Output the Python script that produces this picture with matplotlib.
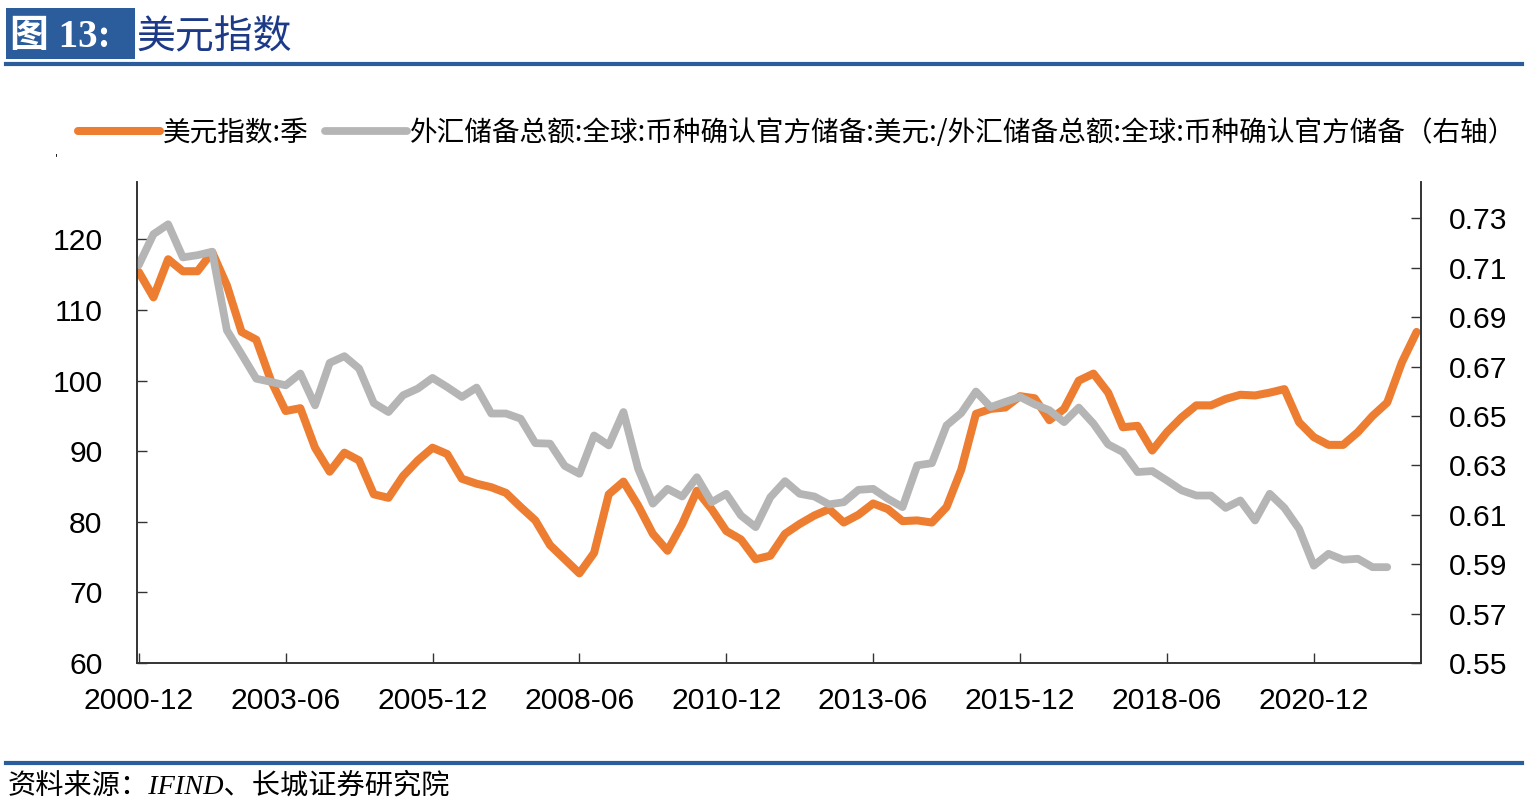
import matplotlib
matplotlib.use("Agg")
import matplotlib.pyplot as plt
from matplotlib.lines import Line2D
from matplotlib.patches import Rectangle
import numpy as np

# ---------------- data ----------------
dxy = [115.4, 111.8, 117.2, 115.5, 115.5, 118.2, 113.5, 106.9, 105.8, 100.0,
       95.7, 96.1, 90.5, 87.1, 89.8, 88.7, 83.9, 83.4, 86.5, 88.7,
       90.5, 89.6, 86.1, 85.4, 84.9, 84.1, 82.1, 80.2, 76.7, 74.7,
       72.7, 75.6, 83.9, 85.7, 82.3, 78.3, 75.9, 79.7, 84.4, 81.8,
       78.7, 77.5, 74.7, 75.2, 78.3, 79.7, 80.9, 81.8, 79.9, 81.0,
       82.6, 81.8, 80.1, 80.2, 79.9, 82.1, 87.4, 95.3, 96.0, 96.2,
       97.8, 97.5, 94.4, 96.0, 100.0, 101.0, 98.3, 93.4, 93.6, 90.1,
       92.7, 94.8, 96.5, 96.5, 97.4, 98.0, 97.9, 98.3, 98.8, 94.1,
       92.0, 90.9, 90.9, 92.7, 95.0, 96.9, 102.6, 106.9]

usd_share = [0.7111, 0.7236, 0.7276, 0.7142, 0.7151, 0.7165, 0.6847, 0.6750, 0.6651, 0.6638,
             0.6624, 0.6672, 0.6543, 0.6715, 0.6742, 0.6692, 0.6552, 0.6516, 0.6584, 0.6611,
             0.6654, 0.6617, 0.6577, 0.6615, 0.6510, 0.6510, 0.6489, 0.6390, 0.6388, 0.6298,
             0.6266, 0.6421, 0.6381, 0.6516, 0.6286, 0.6145, 0.6205, 0.6174, 0.6252, 0.6151,
             0.6185, 0.6097, 0.6050, 0.6171, 0.6236, 0.6185, 0.6174, 0.6142, 0.6151, 0.6201,
             0.6205, 0.6165, 0.6131, 0.6300, 0.6309, 0.6462, 0.6512, 0.6599, 0.6536, 0.6557,
             0.6577, 0.6547, 0.6523, 0.6475, 0.6534, 0.6469, 0.6385, 0.6354, 0.6273, 0.6277,
             0.6239, 0.6199, 0.6178, 0.6178, 0.6128, 0.6158, 0.6077, 0.6185, 0.6128, 0.6043,
             0.5894, 0.5942, 0.5918, 0.5922, 0.5888, 0.5888]

x_tick_pos = [0, 10, 20, 30, 40, 50, 60, 70, 80]
x_tick_labels = ["2000-12", "2003-06", "2005-12", "2008-06", "2010-12",
                 "2013-06", "2015-12", "2018-06", "2020-12"]
left_ticks = [60, 70, 80, 90, 100, 110, 120]
right_ticks = [0.55, 0.57, 0.59, 0.61, 0.63, 0.65, 0.67, 0.69, 0.71, 0.73]

label_dxy = "美元指数:季"
label_share = "外汇储备总额:全球:币种确认官方储备:美元:/外汇储备总额:全球:币种确认官方储备（右轴）"
title_num = "图 13:"
title_text = "美元指数"
source_text = "资料来源：IFIND、长城证券研究院"

ORANGE = "#ED7D31"
GRAY = "#B5B5B5"
BLUE = "#2B5C9B"

W, H = 1531, 809
fig = plt.figure(figsize=(W / 100, H / 100), dpi=100)

def fx(px):
    return px / W

def fy(py):
    return 1 - py / H

cjk = ["Noto Sans CJK SC", "DejaVu Sans"]

# ---------------- header ----------------
fig.patches.append(Rectangle((fx(6), fy(59)), fx(129), 51 / H, transform=fig.transFigure,
                             facecolor=BLUE, edgecolor="none"))
fig.text(fx(10), fy(37), title_num, color="white", fontsize=28, weight="bold",
         family=["Liberation Serif", "Noto Sans CJK SC"], va="center", ha="left")
fig.text(fx(136), fy(37), title_text, color="#1C3A88", fontsize=28,
         family=cjk, va="center", ha="left")
fig.add_artist(Line2D([fx(6), fx(1522)], [fy(64), fy(64)], transform=fig.transFigure,
                      color=BLUE, lw=3))
fig.add_artist(Line2D([fx(6), fx(1522)], [fy(763), fy(763)], transform=fig.transFigure,
                      color=BLUE, lw=3))
fig.text(fx(8), fy(786), source_text, fontsize=20.3, style="italic",
         family=["Liberation Serif", "Noto Sans CJK SC"], va="center", ha="left")
fig.text(fx(56), fy(158), "'", fontsize=8, va="center", ha="center")

# ---------------- axes ----------------
ax = fig.add_axes([fx(137.3), fy(663), fx(1421) - fx(137.3), fy(182.3) - fy(663)])
ax2 = ax.twinx()

x1 = np.arange(len(dxy))
x2 = np.arange(len(usd_share))
l1, = ax.plot(x1, dxy, color=ORANGE, lw=5.8, solid_capstyle="round", solid_joinstyle="round")
l2, = ax2.plot(x2, usd_share, color=GRAY, lw=5.6, solid_capstyle="round", solid_joinstyle="round")

ax.set_xlim(-0.1, 87.3)
ax.set_ylim(60, 128.1)
ax2.set_ylim(0.55, 0.7446)

ax.set_xticks(x_tick_pos)
ax.set_xticklabels(x_tick_labels)
ax.set_yticks(left_ticks)
ax.set_yticklabels([str(v) for v in left_ticks])
ax2.set_yticks(right_ticks)
ax2.set_yticklabels([f"{v:.2f}" for v in right_ticks])

for a in (ax, ax2):
    a.spines["top"].set_visible(False)
    for s in ("left", "right", "bottom"):
        a.spines[s].set_color("#333333")
        a.spines[s].set_linewidth(1.2)
    a.set_facecolor("none")

ax.tick_params(axis="x", direction="in", length=7, width=1, color="#333333", pad=17)
ax.tick_params(axis="y", direction="in", length=7, width=1, color="#333333", pad=25)
ax2.tick_params(axis="y", direction="in", length=7, width=1, color="#333333", pad=20)
for lab in ax.get_xticklabels() + ax.get_yticklabels() + ax2.get_yticklabels():
    lab.set_fontfamily("Liberation Sans")
    lab.set_fontsize(21.7)

# ---------------- legend ----------------
h1 = Line2D([], [], color=ORANGE, lw=5.8, solid_capstyle="round")
h2 = Line2D([], [], color=GRAY, lw=5.6, solid_capstyle="round")
fig.legend([h1, h2], [label_dxy, label_share], loc="center left",
           bbox_to_anchor=(fx(78), fy(133)), ncol=2, frameon=False,
           borderpad=0, borderaxespad=0, handlelength=2.95, handletextpad=0.12,
           columnspacing=0.6, prop={"family": cjk, "size": 19.9})

fig.savefig("out.png", dpi=100)
